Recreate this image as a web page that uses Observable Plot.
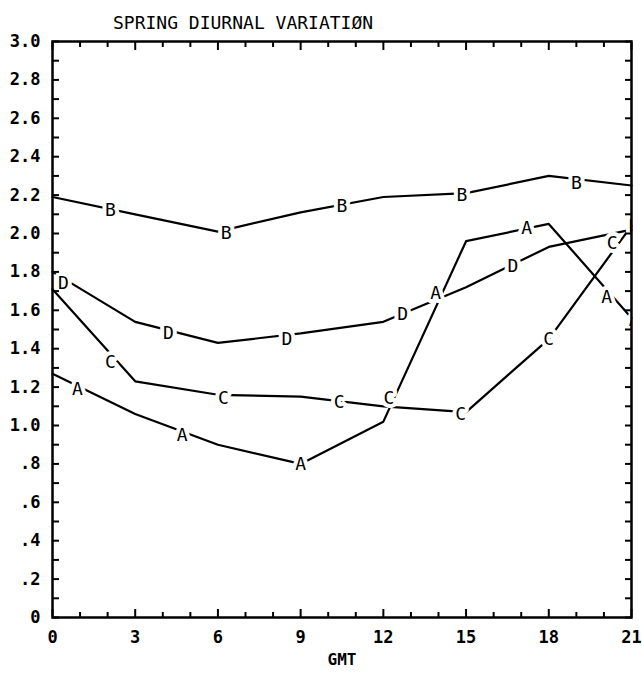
<!DOCTYPE html>
<html>
<head>
<meta charset="utf-8">
<script src="https://cdn.jsdelivr.net/npm/d3@7"></script>
<script src="https://cdn.jsdelivr.net/npm/@observablehq/plot@0.6"></script>
<style>
  html, body { margin: 0; padding: 0; background: #fff; }
  #wrap { position: relative; width: 642px; height: 675px; }
  #title {
    position: absolute;
    left: 113px;
    top: 14px;
    font-family: "DejaVu Sans Mono", monospace;
    font-size: 18px;
    line-height: 1;
    color: #000;
    white-space: pre;
  }
  #chart svg { display: block; }
</style>
</head>
<body>
<div id="wrap">
<div id="chart"></div>
<div id="title">SPRING DIURNAL VARIATIØN</div>
</div>
<script>
// ---- data ----
const hours = [0, 3, 6, 9, 12, 15, 18, 21];
const valuesA = [1.27, 1.06, 0.90, 0.80, 1.02, 1.96, 2.05, 1.56];
const valuesB = [2.19, 2.10, 2.01, 2.11, 2.19, 2.21, 2.30, 2.25];
const valuesC = [1.71, 1.23, 1.16, 1.15, 1.10, 1.07, 1.45, 2.04];
const valuesD = [1.80, 1.54, 1.43, 1.48, 1.54, 1.72, 1.93, 2.02];

// letter markers placed along each curve (hour, value)
const markerHoursA = [0.9, 4.7, 9.0, 13.9, 17.2, 20.1, 21.1];
const markerValuesA = [1.19, 0.95, 0.80, 1.69, 2.03, 1.67, 1.55];
const markerHoursB = [2.1, 6.3, 10.5, 14.85, 19.0];
const markerValuesB = [2.12, 2.00, 2.14, 2.20, 2.26];
const markerHoursC = [2.1, 6.2, 10.4, 12.2, 14.8, 18.0, 20.3];
const markerValuesC = [1.33, 1.14, 1.12, 1.14, 1.06, 1.45, 1.95];
const markerHoursD = [0.4, 4.2, 8.5, 12.7, 16.7, 21.1];
const markerValuesD = [1.74, 1.48, 1.45, 1.58, 1.83, 2.04];

const seriesNames = ["A", "B", "C", "D"];

const xMajorTicks = [0, 3, 6, 9, 12, 15, 18, 21];
const xMinorTicks = [1, 2, 4, 5, 7, 8, 10, 11, 13, 14, 16, 17, 19, 20];
const yTickValues = [0, 0.2, 0.4, 0.6, 0.8, 1.0, 1.2, 1.4, 1.6, 1.8, 2.0, 2.2, 2.4, 2.6, 2.8, 3.0];
const yTickLabels = ["0", ".2", ".4", ".6", ".8", "1.0", "1.2", "1.4", "1.6", "1.8", "2.0", "2.2", "2.4", "2.6", "2.8", "3.0"];
const yAllTicks = [0, 0.1, 0.2, 0.3, 0.4, 0.5, 0.6, 0.7, 0.8, 0.9, 1.0, 1.1, 1.2, 1.3, 1.4, 1.5,
                   1.6, 1.7, 1.8, 1.9, 2.0, 2.1, 2.2, 2.3, 2.4, 2.5, 2.6, 2.7, 2.8, 2.9, 3.0];

// ---- build tables ----
const seriesValues = {A: valuesA, B: valuesB, C: valuesC, D: valuesD};
const markerHours = {A: markerHoursA, B: markerHoursB, C: markerHoursC, D: markerHoursD};
const markerValues = {A: markerValuesA, B: markerValuesB, C: markerValuesC, D: markerValuesD};

const lineData = seriesNames.flatMap(s =>
  hours.map((h, i) => ({series: s, hour: h, value: seriesValues[s][i]})));
const markerData = seriesNames.flatMap(s =>
  markerHours[s].map((h, i) => ({series: s, hour: h, value: markerValues[s][i]})));

const font = "DejaVu Sans Mono";

const chart = Plot.plot({
  width: 642,
  height: 675,
  marginTop: 41,
  marginBottom: 58,
  marginLeft: 52,
  marginRight: 11,
  style: {fontFamily: font, fontSize: "17px", fontWeight: "bold", color: "#000", background: "#fff"},
  x: {domain: [0, 21], axis: null},
  y: {domain: [0, 3], axis: null},
  marks: [
    Plot.line(lineData, {x: "hour", y: "value", z: "series", stroke: "#000", strokeWidth: 2.2}),
    Plot.text(markerData, {
      x: "hour", y: "value", text: "series",
      fill: "#000", stroke: "#fff", strokeWidth: 8, paintOrder: "stroke",
      fontSize: 18, fontWeight: "normal", fontFamily: font, clip: true
    }),
    // inward ticks on all four sides
    Plot.axisX(xMinorTicks, {anchor: "bottom", tickSize: -5, tickFormat: () => "", label: null, strokeWidth: 2}),
    Plot.axisX(xMajorTicks, {anchor: "bottom", tickSize: -8, tickFormat: () => "", label: null, strokeWidth: 2}),
    Plot.axisX(xMinorTicks, {anchor: "top", tickSize: -5, tickFormat: () => "", label: null, strokeWidth: 2}),
    Plot.axisX(xMajorTicks, {anchor: "top", tickSize: -8, tickFormat: () => "", label: null, strokeWidth: 2}),
    Plot.axisY(yAllTicks, {anchor: "left", tickSize: -7, tickFormat: () => "", label: null, strokeWidth: 2}),
    Plot.axisY(yAllTicks, {anchor: "right", tickSize: -7, tickFormat: () => "", label: null, strokeWidth: 2}),
    // tick labels
    Plot.axisX(xMajorTicks, {anchor: "bottom", tickSize: 0, tickPadding: 13, label: null,
      tickFormat: d => String(d)}),
    Plot.axisY(yTickValues, {anchor: "left", tickSize: 0, tickPadding: 12, label: null,
      tickFormat: d => yTickLabels[yTickValues.indexOf(d)]}),
    Plot.text(["GMT"], {frameAnchor: "bottom", dy: 47, text: d => d, fontSize: 16}),
    Plot.frame({stroke: "#000", strokeWidth: 2.5})
  ]
});
document.getElementById("chart").appendChild(chart);
</script>
</body>
</html>
